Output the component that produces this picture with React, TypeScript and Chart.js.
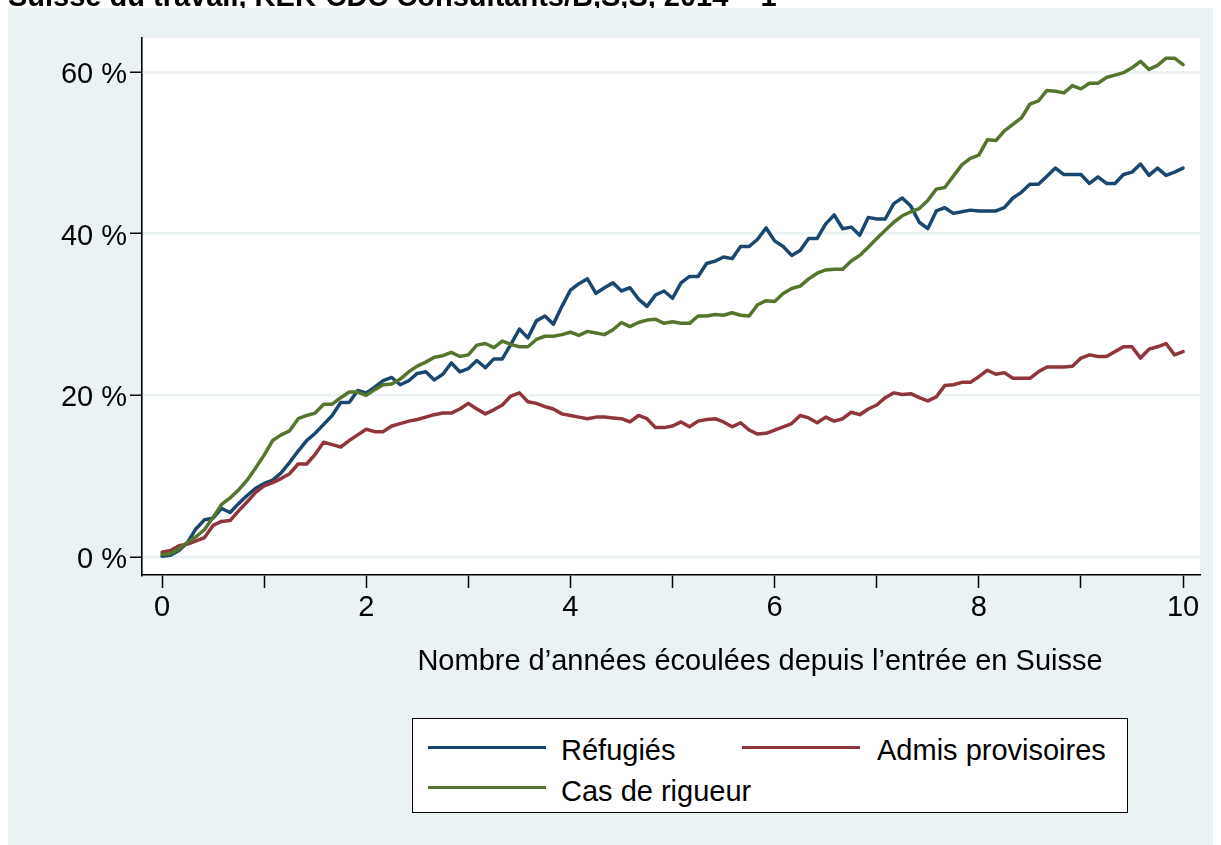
import React, { useEffect, useRef } from "react";
import { Chart, registerables } from "chart.js";

Chart.register(...registerables);

// months since entry (0..120) expressed in years
const yearsElapsed: number[] = Array.from({ length: 121 }, (_, i) => i / 12);

const refugies: number[] = [
  0.1, 0.2, 0.8, 1.8, 3.5, 4.6, 4.8, 6.0, 5.5, 6.6,
  7.6, 8.5, 9.1, 9.5, 10.4, 11.7, 13.1, 14.4, 15.3, 16.4,
  17.5, 19.1, 19.1, 20.6, 20.3, 21.0, 21.8, 22.2, 21.3, 21.8,
  22.7, 22.9, 21.9, 22.6, 24.0, 22.9, 23.3, 24.3, 23.4, 24.5,
  24.5, 26.3, 28.2, 27.1, 29.2, 29.8, 28.8, 31.0, 33.0, 33.8,
  34.4, 32.6, 33.3, 33.9, 32.9, 33.3, 31.9, 31.0, 32.4, 32.9,
  32.0, 33.9, 34.7, 34.7, 36.3, 36.6, 37.1, 36.9, 38.4, 38.4,
  39.3, 40.7, 39.1, 38.4, 37.3, 37.9, 39.4, 39.4, 41.2, 42.3,
  40.6, 40.8, 39.8, 42.0, 41.8, 41.8, 43.7, 44.4, 43.4, 41.4,
  40.6, 42.8, 43.2, 42.5, 42.7, 42.9, 42.8, 42.8, 42.8, 43.2,
  44.4, 45.1, 46.1, 46.1, 47.1, 48.1, 47.3, 47.3, 47.3, 46.2,
  47.0, 46.2, 46.2, 47.3, 47.6, 48.6, 47.2, 48.1, 47.2, 47.6,
  48.1,
];

const admisProvisoires: number[] = [
  0.6, 0.8, 1.4, 1.6, 2.0, 2.4, 3.9, 4.4, 4.5, 5.7,
  6.8, 8.0, 8.8, 9.2, 9.7, 10.3, 11.5, 11.5, 12.7, 14.2,
  13.9, 13.6, 14.4, 15.1, 15.8, 15.5, 15.5, 16.2, 16.5, 16.8,
  17.0, 17.3, 17.6, 17.8, 17.8, 18.3, 19.0, 18.3, 17.7, 18.2,
  18.8, 19.9, 20.3, 19.2, 19.0, 18.6, 18.3, 17.7, 17.5, 17.3,
  17.1, 17.3, 17.3, 17.2, 17.1, 16.7, 17.5, 17.1, 16.0, 16.0,
  16.2, 16.7, 16.1, 16.8, 17.0, 17.1, 16.7, 16.1, 16.6, 15.7,
  15.2, 15.3, 15.7, 16.1, 16.5, 17.5, 17.2, 16.6, 17.3, 16.8,
  17.1, 17.9, 17.6, 18.3, 18.8, 19.7, 20.3, 20.1, 20.2, 19.7,
  19.3, 19.8, 21.2, 21.3, 21.6, 21.6, 22.3, 23.1, 22.6, 22.8,
  22.1, 22.1, 22.1, 22.9, 23.5, 23.5, 23.5, 23.6, 24.6, 25.0,
  24.8, 24.8, 25.4, 26.0, 26.0, 24.6, 25.7, 26.0, 26.4, 25.0,
  25.4,
];

const casDeRigueur: number[] = [
  0.3, 0.4, 1.0, 1.8, 2.5, 3.4, 4.9, 6.5, 7.3, 8.3,
  9.5, 11.0, 12.6, 14.4, 15.1, 15.6, 17.1, 17.5, 17.8, 18.9,
  18.9, 19.7, 20.4, 20.4, 20.0, 20.7, 21.3, 21.4, 22.0, 22.9,
  23.6, 24.1, 24.7, 24.9, 25.3, 24.8, 25.0, 26.2, 26.4, 25.9,
  26.7, 26.3, 26.0, 26.0, 26.9, 27.3, 27.3, 27.5, 27.8, 27.4,
  27.9, 27.7, 27.5, 28.1, 29.0, 28.5, 29.0, 29.3, 29.4, 28.9,
  29.1, 28.9, 28.9, 29.8, 29.8, 30.0, 29.9, 30.2, 29.9, 29.8,
  31.2, 31.7, 31.6, 32.6, 33.2, 33.5, 34.4, 35.1, 35.5, 35.6,
  35.6, 36.6, 37.3, 38.3, 39.4, 40.4, 41.4, 42.2, 42.7, 43.1,
  44.1, 45.5, 45.7, 47.1, 48.5, 49.3, 49.7, 51.6, 51.5, 52.7,
  53.5, 54.3, 56.0, 56.4, 57.7, 57.6, 57.4, 58.3, 57.9, 58.6,
  58.6, 59.3, 59.6, 59.9, 60.5, 61.3, 60.3, 60.8, 61.7, 61.7,
  60.9,
];

const yTickValues: number[] = [0, 20, 40, 60];
const xTickValues: number[] = [0, 1, 2, 3, 4, 5, 6, 7, 8, 9, 10];
const xLabelledTicks: number[] = [0, 2, 4, 6, 8, 10];

const seriesNames = ["Réfugiés", "Admis provisoires", "Cas de rigueur"];
const cutTitle = "Suisse du travail, KEK-CDC Consultants/B,S,S, 2014 – 1";
const NAVY = "#1A476F";
const MAROON = "#90353B";
const GREEN = "#55752F";
const BG = "#EAF2F3";
const FONT = "'Liberation Sans', Arial, sans-serif";
const FS = 29;

const plotBg = {
  id: "plotBg",
  beforeDraw(chart: any) {
    const { ctx, chartArea } = chart;
    ctx.save();
    ctx.fillStyle = "#ffffff";
    ctx.fillRect(chartArea.left, chartArea.top, chartArea.right - chartArea.left, chartArea.bottom - chartArea.top);
    ctx.restore();
  },
};

export default function App() {
  const ref = useRef<HTMLCanvasElement>(null);

  useEffect(() => {
    const mk = (vals: number[]) => yearsElapsed.map((x, i) => ({ x, y: vals[i] }));
    const line = (label: string, vals: number[], color: string) => ({
      label,
      data: mk(vals),
      borderColor: color,
      backgroundColor: color,
      borderWidth: 3.5,
      pointRadius: 0,
      tension: 0,
      borderJoinStyle: "round" as const,
      borderCapStyle: "round" as const,
    });
    const chart = new Chart(ref.current as HTMLCanvasElement, {
      type: "line",
      data: {
        datasets: [
          line(seriesNames[2], casDeRigueur, GREEN),
          line(seriesNames[1], admisProvisoires, MAROON),
          line(seriesNames[0], refugies, NAVY),
        ],
      },
      options: {
        animation: false,
        responsive: false,
        maintainAspectRatio: false,
        layout: { padding: { top: 30, right: 21, left: 0, bottom: 0 } },
        plugins: { legend: { display: false }, tooltip: { enabled: false }, title: { display: false } },
        scales: {
          x: {
            type: "linear",
            min: -0.196,
            max: 10.166,
            afterBuildTicks: (s: any) => {
              s.ticks = xTickValues.map((v) => ({ value: v }));
            },
            afterFit: (s: any) => {
              s.height = 270;
            },
            grid: { drawOnChartArea: false, drawTicks: true, tickLength: 13, tickColor: "#000", tickWidth: 1.5 },
            border: { display: true, color: "#000", width: 1.6 },
            ticks: {
              autoSkip: false,
              maxRotation: 0,
              color: "#000",
              padding: 3,
              font: { family: FONT, size: FS },
              callback: (v: any) => (xLabelledTicks.includes(Number(v)) ? String(v) : ""),
            },
          },
          y: {
            type: "linear",
            min: -2.23,
            max: 64.19,
            afterBuildTicks: (s: any) => {
              s.ticks = yTickValues.map((v) => ({ value: v }));
            },
            afterFit: (s: any) => {
              s.width = 134;
            },
            grid: { color: BG, lineWidth: 2.5, tickLength: 12, tickColor: "#000", tickWidth: 1.5 },
            border: { display: true, color: "#000", width: 1.6 },
            ticks: {
              color: "#000",
              padding: 3,
              labelOffset: 3,
              font: { family: FONT, size: FS },
              callback: (v: any) => `${v} %`,
            },
          },
        },
      },
      plugins: [plotBg],
    });
    return () => chart.destroy();
  }, []);

  const txt: React.CSSProperties = {
    position: "absolute",
    fontFamily: FONT,
    fontSize: FS,
    lineHeight: `${FS}px`,
    color: "#000",
    whiteSpace: "nowrap",
  };
  const sample = (left: number, top: number, color: string): React.CSSProperties => ({
    position: "absolute",
    left,
    top,
    width: 118,
    height: 3,
    background: color,
  });

  return (
    <div style={{ position: "relative", width: 1213, height: 837 }}>
      <div style={{ position: "absolute", left: 0, top: 0, width: 1213, height: 837, background: BG }}>
        <canvas ref={ref} width={1213} height={837} style={{ position: "absolute", left: 0, top: 0 }} />
        <div style={{ ...txt, left: 252, top: 638, width: 1000, textAlign: "center" }}>
          Nombre d’années écoulées depuis l’entrée en Suisse
        </div>
        <div
          style={{
            position: "absolute",
            left: 404,
            top: 710,
            width: 716,
            height: 95,
            background: "#fff",
            border: "1px solid #000",
            boxSizing: "border-box",
          }}
        >
          <div style={sample(15, 27, NAVY)} />
          <div style={{ ...txt, left: 148, top: 17 }}>{seriesNames[0]}</div>
          <div style={sample(329, 27, MAROON)} />
          <div style={{ ...txt, left: 464, top: 17 }}>{seriesNames[1]}</div>
          <div style={sample(15, 67, GREEN)} />
          <div style={{ ...txt, left: 148, top: 58 }}>{seriesNames[2]}</div>
        </div>
      </div>
      {/* title of the source figure, cut off by the top of the page */}
      <div
        style={{
          position: "fixed",
          left: 0,
          top: 0,
          height: 8,
          width: 1221,
          overflow: "hidden",
          zIndex: 5,
        }}
      >
        <div
          style={{
            position: "absolute",
            left: 8,
            top: -18,
            fontFamily: FONT,
            fontWeight: "bold",
            fontSize: 29,
            lineHeight: "29px",
            whiteSpace: "nowrap",
            color: "#000",
          }}
        >
          {cutTitle}
        </div>
      </div>
    </div>
  );
}
